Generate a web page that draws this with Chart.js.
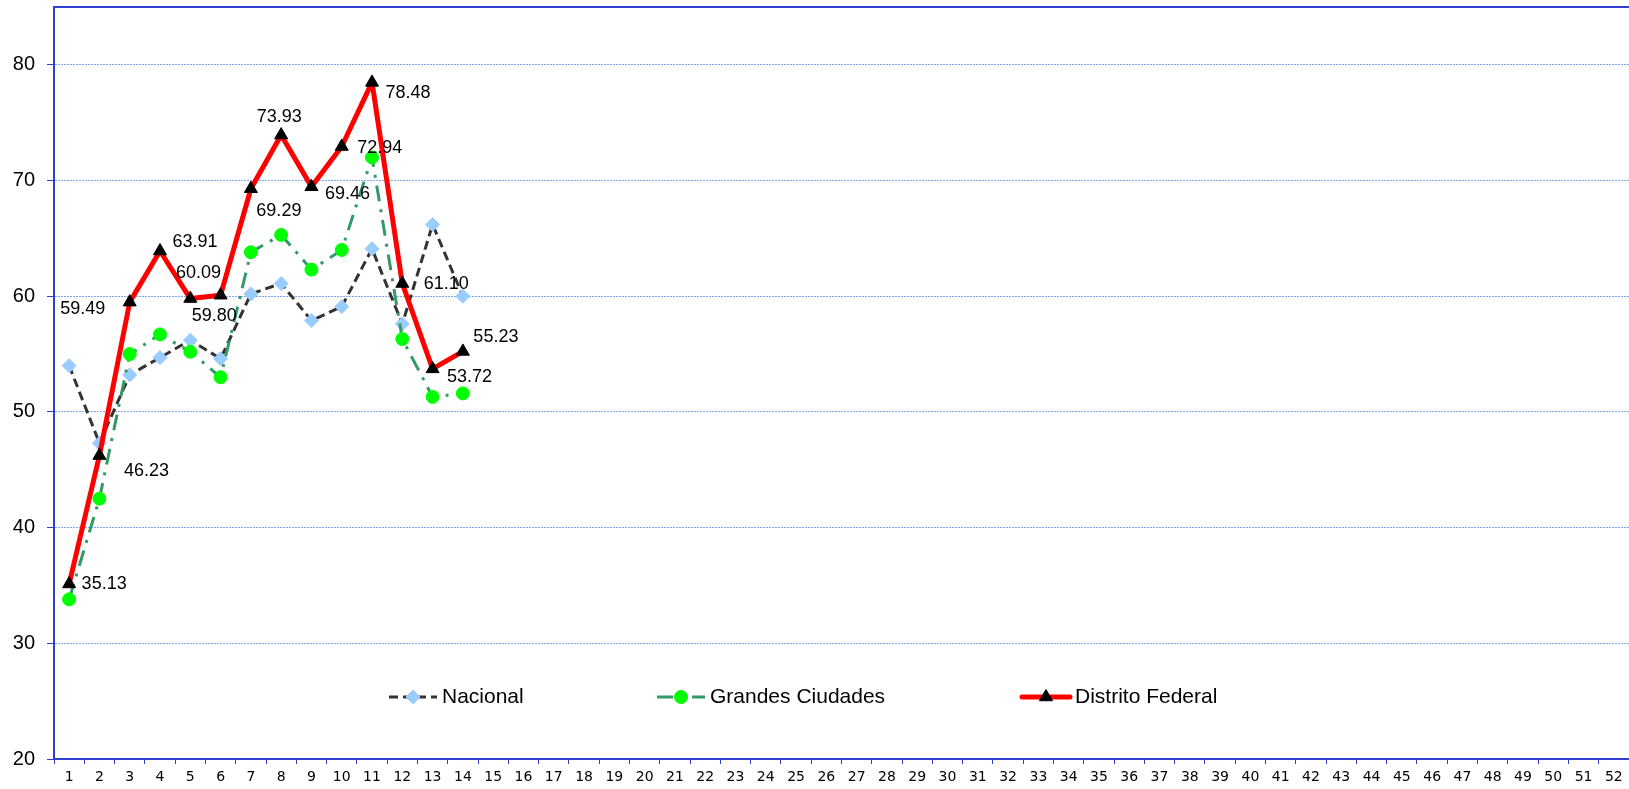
<!DOCTYPE html>
<html>
<head>
<meta charset="utf-8">
<script src="https://cdn.jsdelivr.net/npm/chart.js@4.4.1/dist/chart.umd.min.js"></script>
<style>
  html,body{margin:0;padding:0;background:#fff;}
  #wrap{width:1629px;height:789px;position:relative;}
</style>
</head>
<body>
<div id="wrap"><canvas id="chart"></canvas></div>
<script>
/* ===============================
   DATA
================================ */
const weeks = ["1","2","3","4","5","6","7","8","9","10","11","12","13","14","15","16","17","18","19","20",
  "21","22","23","24","25","26","27","28","29","30","31","32","33","34","35","36","37","38","39","40",
  "41","42","43","44","45","46","47","48","49","50","51","52"];

const yMin = 20;
const yMax = 85;
const yStep = 10;

const nacional = [54.0,47.3,53.2,54.7,56.2,54.6,60.2,61.1,57.9,59.1,64.1,57.6,66.2,60.0];
const grandesCiudades = [33.8,42.5,55.0,56.7,55.2,53.0,63.8,65.3,62.3,64.0,72.0,56.3,51.3,51.6];
const distritoFederal = [35.13,46.23,59.49,63.91,59.80,60.09,69.29,73.93,69.46,72.94,78.48,61.10,53.72,55.23];

/* ===============================
   STYLE
================================ */
const axisBlue = "#2f3fcf";
const gridBlue = "#7fa6ee";
const labelFont = '18px "Liberation Sans", Arial, sans-serif';
const legendFont = '21px "Liberation Sans", Arial, sans-serif';

// where each Distrito Federal value label sits relative to its point
const dfLabelOffsets = [[35,0.5],[47,15],[-47,7],[35,-9],[24,17],[-22,-22],[28,22],[-2,-18],[36,7],[38,1.5],[36,11],[44,1],[37,8],[33,-14]];

// legend sits inside the plot, like the original
const legendX = [389, 657, 1022];
const legendY = 697;

const extras = {
  id: "extras",
  afterDatasetsDraw(chart){
    const ctx = chart.ctx;
    const meta = chart.getDatasetMeta(2);
    ctx.save();
    ctx.font = labelFont;
    ctx.fillStyle = "#000";
    ctx.textAlign = "center";
    ctx.textBaseline = "middle";
    meta.data.forEach((pt, i) => {
      const off = dfLabelOffsets[i] || [30, 0];
      ctx.fillText(distritoFederal[i].toFixed(2), pt.x + off[0], pt.y + off[1]);
    });
    ctx.restore();
  },
  afterDraw(chart){
    const ctx = chart.ctx;
    const a = chart.chartArea;

    // top border of the plot
    ctx.save();
    ctx.strokeStyle = axisBlue;
    ctx.lineWidth = 2;
    ctx.beginPath();
    ctx.moveTo(a.left, a.top);
    ctx.lineTo(a.right, a.top);
    ctx.stroke();
    ctx.restore();

    // legend
    chart.data.datasets.forEach((ds, i) => {
      const x0 = legendX[i];
      ctx.save();
      ctx.strokeStyle = ds.borderColor;
      ctx.lineWidth = ds.borderWidth;
      ctx.lineCap = ds.borderCapStyle || "butt";
      ctx.setLineDash(ds.borderDash || []);
      ctx.beginPath();
      ctx.moveTo(x0, legendY);
      ctx.lineTo(x0 + 48, legendY);
      ctx.stroke();
      ctx.restore();

      ctx.save();
      ctx.fillStyle = ds.pointBackgroundColor;
      ctx.strokeStyle = ds.pointBorderColor;
      ctx.lineWidth = 1;
      Chart.helpers.drawPoint(ctx, {pointStyle: ds.pointStyle, radius: ds.pointRadius, borderWidth: 1, rotation: 0}, x0 + 24, legendY);
      ctx.restore();

      ctx.save();
      ctx.font = legendFont;
      ctx.fillStyle = "#000";
      ctx.textAlign = "left";
      ctx.textBaseline = "middle";
      ctx.fillText(ds.label, x0 + 53, legendY);
      ctx.restore();
    });
  }
};

/* ===============================
   CHART
================================ */
new Chart(document.getElementById("chart"), {
  type: "line",
  data: {
    labels: weeks,
    datasets: [
      {
        label: "Nacional",
        data: nacional,
        order: 3,
        borderColor: "#333333",
        borderWidth: 3,
        borderDash: [9,5],
        pointStyle: "rectRot",
        pointRadius: 7,
        pointBackgroundColor: "#99ccff",
        pointBorderColor: "#99ccff",
        pointBorderWidth: 1,
        tension: 0
      },
      {
        label: "Grandes Ciudades",
        data: grandesCiudades,
        order: 2,
        borderColor: "#339966",
        borderWidth: 3,
        borderDash: [16,8,3,8],
        pointStyle: "circle",
        pointRadius: 6.5,
        pointBackgroundColor: "#00ff00",
        pointBorderColor: "#00ff00",
        pointBorderWidth: 1,
        tension: 0
      },
      {
        label: "Distrito Federal",
        data: distritoFederal,
        order: 1,
        borderColor: "#ff0000",
        borderWidth: 5,
        borderCapStyle: "round",
        borderJoinStyle: "round",
        pointStyle: "triangle",
        pointRadius: 7.5,
        pointBackgroundColor: "#000000",
        pointBorderColor: "#000000",
        pointBorderWidth: 1,
        tension: 0
      }
    ]
  },
  options: {
    responsive: true,
    maintainAspectRatio: false,
    animation: false,
    layout: {autoPadding: false, padding: {top: 7, right: 0, left: 0, bottom: 0}},
    plugins: {
      legend: {display: false},
      tooltip: {enabled: false}
    },
    scales: {
      x: {
        offset: true,
        grid: {offset: true, drawOnChartArea: false, drawTicks: true, tickLength: 5, tickColor: axisBlue, tickWidth: 1},
        border: {color: axisBlue, width: 2},
        ticks: {font: {family: "'DejaVu Sans'", size: 14}, color: "#000", padding: 5, maxRotation: 0, autoSkip: false},
        afterFit(s){ s.height = 30; s.paddingLeft = 0; s.paddingRight = 0; }
      },
      y: {
        min: yMin,
        max: yMax,
        ticks: {stepSize: yStep, includeBounds: false, padding: 12, color: "#000",
                font: {family: "'Liberation Sans'", size: 20}},
        grid: {color: gridBlue, lineWidth: 1, tickLength: 7, tickColor: axisBlue, tickWidth: 1, tickBorderDash: []},
        border: {color: axisBlue, width: 2, dash: [2,1]},
        afterFit(s){ s.width = 54; s.paddingTop = 0; s.paddingBottom = 0; }
      }
    }
  },
  plugins: [extras]
});
</script>
</body>
</html>
